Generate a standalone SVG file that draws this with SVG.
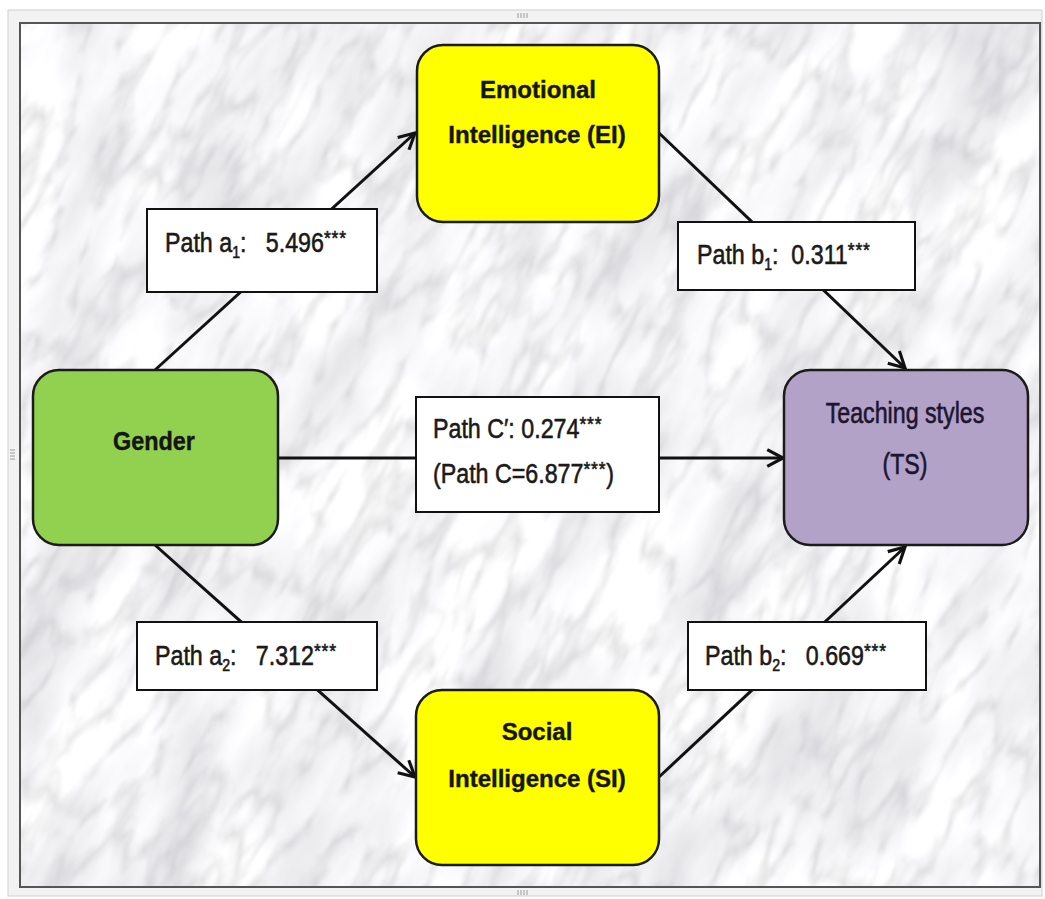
<svg xmlns="http://www.w3.org/2000/svg" width="1045" height="899" viewBox="0 0 1045 899">
  <defs>
    <style>
      .node { stroke: #1b1b1b; stroke-width: 2.5; }
      .lbl { fill: #ffffff; stroke: #111111; stroke-width: 2; }
      .edge { stroke: #111111; stroke-width: 3; fill: none; }
      .bold { font-family: "Liberation Sans", Arial, sans-serif; font-weight: bold; font-size: 24px; fill: #151515; stroke: #151515; stroke-width: 0.4; text-anchor: middle; }
      .cal { font-family: "Liberation Sans", Arial, sans-serif; font-size: 28px; fill: #1a1a1a; stroke: #1a1a1a; stroke-width: 0.6; white-space: pre; }
      .sub { font-size: 17px; }
      .sup { font-size: 21px; letter-spacing: 1px; }
      .handle { stroke: #9a9a9a; stroke-width: 1; }
    </style>
    <marker id="arrow" viewBox="0 0 20 20" refX="18" refY="10" markerWidth="21" markerHeight="21" markerUnits="userSpaceOnUse" orient="auto">
      <path d="M3,2 L18,10 L3,18" fill="none" stroke="#111111" stroke-width="3" stroke-linejoin="miter"/>
    </marker>
    <clipPath id="panel">
      <rect x="20" y="23" width="1020" height="864"/>
    </clipPath>
    <!-- soft grey marble: broad cloudy base plus thin veins -->
    <filter id="marble" filterUnits="userSpaceOnUse" x="-400" y="-400" width="1900" height="1800">
      <feTurbulence type="fractalNoise" baseFrequency="0.006 0.014" numOctaves="4" seed="11" result="cloud"/>
      <feColorMatrix in="cloud" type="matrix" result="base"
        values="-0.5 0 0 0 1.18  -0.5 0 0 0 1.18  -0.48 0 0 0 1.19  0 0 0 0 1"/>
      <feTurbulence type="turbulence" baseFrequency="0.01 0.03" numOctaves="3" seed="4" result="vein"/>
      <feColorMatrix in="vein" type="matrix" result="veinA"
        values="0 0 0 0 0.5  0 0 0 0 0.5  0 0 0 0 0.53  -1.6 0 0 0 0.48"/>
      <feGaussianBlur in="veinA" stdDeviation="1.2" result="veinSoft"/>
      <feComposite in="veinSoft" in2="base" operator="over"/>
    </filter>
  </defs>

  <!-- window frame -->
  <rect x="0" y="0" width="1045" height="899" fill="#ffffff"/>
  <rect x="8" y="10" width="1034" height="886" fill="#f2f2f2" stroke="#cfcfcf" stroke-width="1"/>

  <!-- marble panel -->
  <g clip-path="url(#panel)">
    <rect x="20" y="23" width="1020" height="864" fill="#e6e6e8"/>
    <g transform="rotate(-62 530 455)">
      <rect x="-300" y="-300" width="1700" height="1500" filter="url(#marble)"/>
    </g>
  </g>
  <rect x="20" y="23" width="1020" height="864" fill="none" stroke="#555555" stroke-width="2"/>

  <!-- resize handles -->
  <g class="handle">
    <line x1="518" y1="13" x2="518" y2="18"/><line x1="521" y1="13" x2="521" y2="18"/>
    <line x1="524" y1="13" x2="524" y2="18"/><line x1="527" y1="13" x2="527" y2="18"/>
    <line x1="518" y1="890" x2="518" y2="895"/><line x1="521" y1="890" x2="521" y2="895"/>
    <line x1="524" y1="890" x2="524" y2="895"/><line x1="527" y1="890" x2="527" y2="895"/>
    <line x1="10" y1="450" x2="15" y2="450"/><line x1="10" y1="453" x2="15" y2="453"/>
    <line x1="10" y1="456" x2="15" y2="456"/><line x1="10" y1="459" x2="15" y2="459"/>
  </g>

  <!-- connectors -->
  <g id="connectors">
    <line class="edge" x1="155" y1="370" x2="415" y2="133" marker-end="url(#arrow)"/>
    <line class="edge" x1="659" y1="133" x2="905" y2="368" marker-end="url(#arrow)"/>
    <line class="edge" x1="278" y1="458" x2="783" y2="458" marker-end="url(#arrow)"/>
    <line class="edge" x1="155" y1="545" x2="415" y2="777" marker-end="url(#arrow)"/>
    <line class="edge" x1="659" y1="777" x2="905" y2="547" marker-end="url(#arrow)"/>
  </g>

  <!-- nodes -->
  <g id="node-ei">
    <rect class="node" x="417" y="45" width="242" height="177" rx="26" fill="#ffff00"/>
    <text class="bold" x="538" y="98">Emotional</text>
    <text class="bold" x="537" y="143">Intelligence (EI)</text>
  </g>

  <g id="node-si">
    <rect class="node" x="416" y="690" width="243" height="175" rx="26" fill="#ffff00"/>
    <text class="bold" x="537" y="740">Social</text>
    <text class="bold" x="537" y="787">Intelligence (SI)</text>
  </g>

  <g id="node-gender">
    <rect class="node" x="33" y="370" width="245" height="175" rx="26" fill="#92d050"/>
    <text class="bold" transform="translate(154 450) scale(0.9 1)" style="font-size:26px">Gender</text>
  </g>

  <g id="node-ts">
    <rect class="node" x="784" y="370" width="244" height="175" rx="26" fill="#b3a2c7"/>
    <text class="cal" text-anchor="middle" transform="translate(905 423) scale(0.8 1)" style="font-size:29px; fill:#1c1530; stroke:#1c1530">Teaching styles</text>
    <text class="cal" text-anchor="middle" transform="translate(905 474) scale(0.8 1)" style="font-size:29px; fill:#1c1530; stroke:#1c1530">(TS)</text>
  </g>

  <!-- path labels -->
  <g id="label-a1">
    <rect class="lbl" x="147" y="209" width="230" height="83"/>
    <text class="cal" transform="translate(165 252) scale(0.83 1)">Path a<tspan class="sub" dy="6">1</tspan><tspan dy="-6">:   5.496</tspan><tspan class="sup" dy="-7">***</tspan></text>
  </g>

  <g id="label-b1">
    <rect class="lbl" x="678" y="222" width="237" height="68"/>
    <text class="cal" transform="translate(697 264) scale(0.83 1)">Path b<tspan class="sub" dy="6">1</tspan><tspan dy="-6">:  0.311</tspan><tspan class="sup" dy="-7">***</tspan></text>
  </g>

  <g id="label-c">
    <rect class="lbl" x="416" y="397" width="243" height="115"/>
    <text class="cal" transform="translate(433 438) scale(0.83 1)">Path C′: 0.274<tspan class="sup" dy="-7">***</tspan></text>
    <text class="cal" transform="translate(433 483) scale(0.83 1)">(Path C=6.877<tspan class="sup" dy="-7">***</tspan><tspan dy="7">)</tspan></text>
  </g>

  <g id="label-a2">
    <rect class="lbl" x="137" y="622" width="240" height="68"/>
    <text class="cal" transform="translate(155 665) scale(0.83 1)">Path a<tspan class="sub" dy="6">2</tspan><tspan dy="-6">:   7.312</tspan><tspan class="sup" dy="-7">***</tspan></text>
  </g>

  <g id="label-b2">
    <rect class="lbl" x="688" y="622" width="238" height="68"/>
    <text class="cal" transform="translate(705 665) scale(0.83 1)">Path b<tspan class="sub" dy="6">2</tspan><tspan dy="-6">:   0.669</tspan><tspan class="sup" dy="-7">***</tspan></text>
  </g>
</svg>
